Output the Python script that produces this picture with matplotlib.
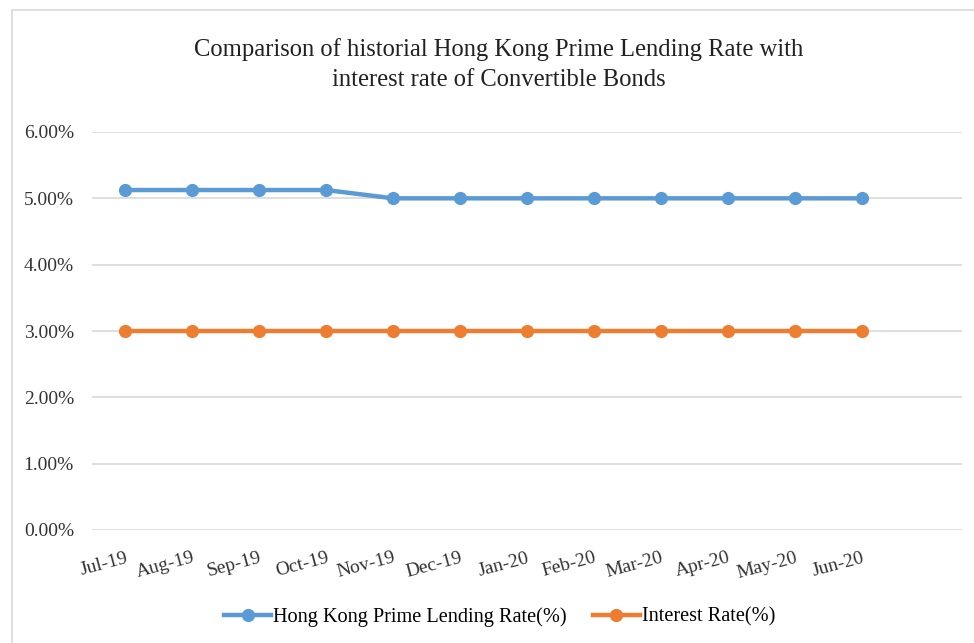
import matplotlib
matplotlib.use("Agg")
import matplotlib.pyplot as plt
from matplotlib.patches import Rectangle
from matplotlib.ticker import FuncFormatter

months = ["Jul-19", "Aug-19", "Sep-19", "Oct-19", "Nov-19", "Dec-19",
          "Jan-20", "Feb-20", "Mar-20", "Apr-20", "May-20", "Jun-20"]
prime_rate = [5.125, 5.125, 5.125, 5.125, 5.0, 5.0, 5.0, 5.0, 5.0, 5.0, 5.0, 5.0]
bond_rate = [3.0] * 12
y_ticks = [0, 1, 2, 3, 4, 5, 6]

plt.rcParams["font.family"] = ["Liberation Serif", "DejaVu Serif"]

fig = plt.figure(figsize=(9.74, 6.43), dpi=100)
# light frame around the chart, as in the Excel export
fig.patches.append(Rectangle((12 / 974, -0.01), 1.0, 1 - 10 / 643 + 0.01,
                             transform=fig.transFigure, fill=False,
                             edgecolor="#D9D9D9", linewidth=1.2))

ax = fig.add_axes([92 / 974, 1 - 530 / 643, 870 / 974, 398 / 643])
x = list(range(len(months)))
ax.plot(x, prime_rate, color="#5B9BD5", linewidth=3.2, marker="o",
        markersize=8.5, label="Hong Kong Prime Lending Rate(%)", zorder=3)
ax.plot(x, bond_rate, color="#ED7D31", linewidth=3.2, marker="o",
        markersize=8.5, label="Interest Rate(%)", zorder=3)

ax.set_xlim(-0.5, len(months) + 0.5)
ax.set_ylim(0, 6)
ax.set_yticks(y_ticks)
ax.yaxis.set_major_formatter(FuncFormatter(lambda v, _: f"{v:.2f}%"))
ax.set_xticks(x)
ax.set_xticklabels(months, rotation=15, ha="right", rotation_mode="anchor")
ax.tick_params(axis="both", length=0, colors="#333333")
ax.tick_params(axis="x", pad=14, labelsize=14)
ax.tick_params(axis="y", pad=13, labelsize=14)
ax.grid(axis="y", color="#D9D9D9", linewidth=1.2)
ax.set_axisbelow(True)
for s in ax.spines.values():
    s.set_visible(False)

fig.text(0.512, 1 - 50 / 643, "Comparison of historial Hong Kong Prime Lending Rate with",
         ha="center", va="center", fontsize=17.7, color="#222222")
fig.text(0.512, 1 - 80 / 643, "interest rate of Convertible Bonds",
         ha="center", va="center", fontsize=17.7, color="#222222")

fig.legend(loc="center", bbox_to_anchor=(0.513, 1 - 617 / 643), ncol=2,
           frameon=False, fontsize=14.6, handlelength=2.3, handletextpad=0.1,
           columnspacing=1.3)

fig.savefig("out.png", dpi=100)
